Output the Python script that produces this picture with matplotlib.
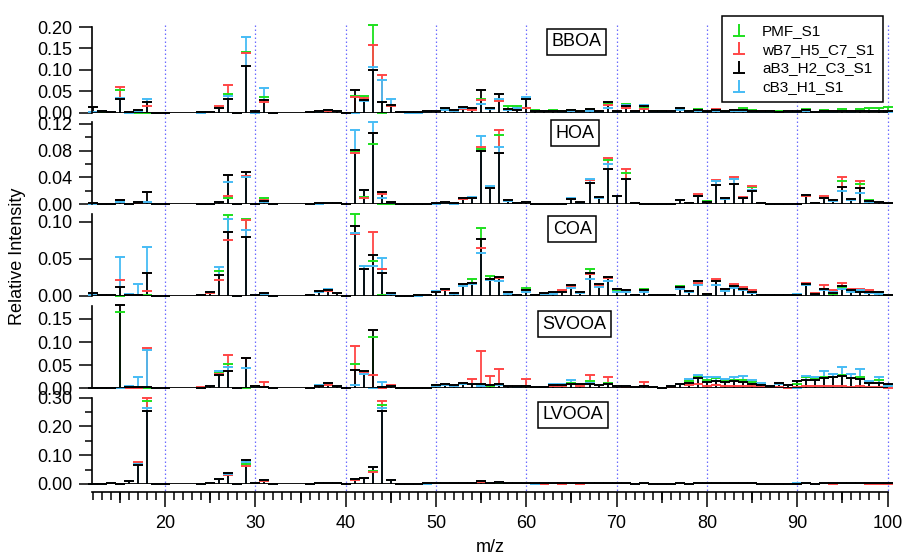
import matplotlib
matplotlib.use('Agg')
import matplotlib.pyplot as plt
from matplotlib.lines import Line2D
from matplotlib.path import Path
from matplotlib.transforms import blended_transform_factory
from matplotlib.ticker import FixedLocator, MultipleLocator, FormatStrFormatter

plt.rcParams['font.family'] = ['Liberation Sans', 'DejaVu Sans']

# ---------------- data ----------------
mz = list(range(12, 21)) + list(range(24, 33)) + list(range(36, 101))

series_names = ['PMF_S1', 'wB7_H5_C7_S1', 'aB3_H2_C3_S1', 'cB3_H1_S1']
factor_names = ['BBOA', 'HOA', 'COA', 'SVOOA', 'LVOOA']

# rows: 12-20 | 24-32 | 36-45 | 46-55 | 56-65 | 66-75 | 76-85 | 86-95 | 96-100
BBOA_PMF = [0.001,0.002,0.001,0.053,0.0,0.0,0.0,0.0,0.0,
            0.001,0.002,0.013,0.043,0.0,0.141,0.0,0.037,0.0,
            0.001,0.002,0.004,0.003,0.0,0.038,0.038,0.204,0.0,0.015,
            0.001,0.0,0.0,0.002,0.004,0.008,0.004,0.012,0.008,0.033,
            0.012,0.030,0.015,0.015,0.012,0.006,0.004,0.006,0.003,0.006,
            0.003,0.008,0.004,0.020,0.005,0.021,0.004,0.010,0.003,0.003,
            0.002,0.008,0.003,0.008,0.004,0.007,0.003,0.007,0.010,0.006,
            0.004,0.004,0.003,0.002,0.002,0.008,0.002,0.006,0.004,0.008,
            0.005,0.008,0.012,0.012,0.013]
BBOA_W = [0.002,0.004,0.002,0.059,0.001,0.004,0.015,0.0,0.0,
          0.0,0.002,0.015,0.064,0.0,0.139,0.0,0.026,0.0,
          0.001,0.005,0.004,0.003,0.0,0.036,0.034,0.158,0.087,0.016,
          0.001,0.0,0.0,0.001,0.003,0.006,0.003,0.009,0.006,0.030,
          0.008,0.027,0.006,0.008,0.010,0.004,0.003,0.004,0.002,0.004,
          0.002,0.006,0.003,0.018,0.003,0.012,0.003,0.008,0.002,0.002,
          0.002,0.006,0.002,0.006,0.003,0.008,0.002,0.006,0.005,0.004,
          0.003,0.002,0.002,0.002,0.002,0.007,0.002,0.004,0.003,0.005,
          0.003,0.004,0.004,0.003,0.003]
BBOA_A = [0.014,0.005,0.002,0.032,0.001,0.006,0.025,0.0,0.0,
          0.001,0.002,0.010,0.031,0.0,0.108,0.005,0.030,0.0,
          0.002,0.005,0.006,0.004,0.0,0.054,0.030,0.099,0.025,0.019,
          0.002,0.001,0.001,0.003,0.005,0.010,0.006,0.014,0.010,0.052,
          0.010,0.043,0.008,0.006,0.033,0.004,0.004,0.005,0.003,0.006,
          0.004,0.008,0.004,0.026,0.004,0.016,0.003,0.016,0.003,0.003,
          0.003,0.011,0.003,0.006,0.005,0.006,0.003,0.007,0.006,0.004,
          0.003,0.003,0.002,0.003,0.003,0.006,0.002,0.004,0.003,0.005,
          0.003,0.004,0.005,0.004,0.004]
BBOA_C = [0.001,0.003,0.001,0.035,0.0,0.002,0.032,0.0,0.0,
          0.0,0.001,0.010,0.040,0.0,0.177,0.0,0.058,0.0,
          0.001,0.002,0.006,0.003,0.0,0.0,0.028,0.106,0.077,0.031,
          0.001,0.0,0.0,0.001,0.003,0.006,0.003,0.010,0.010,0.020,
          0.008,0.032,0.006,0.010,0.037,0.004,0.004,0.003,0.002,0.003,
          0.002,0.005,0.002,0.012,0.002,0.018,0.002,0.019,0.002,0.001,
          0.001,0.006,0.001,0.004,0.002,0.004,0.001,0.003,0.003,0.002,
          0.002,0.002,0.001,0.001,0.001,0.004,0.001,0.002,0.002,0.004,
          0.002,0.004,0.004,0.003,0.002]

HOA_PMF = [0.001,0.001,0.001,0.005,0.0,0.002,0.004,0.0,0.0,
           0.0,0.001,0.003,0.010,0.0,0.041,0.0,0.009,0.0,
           0.001,0.001,0.002,0.002,0.0,0.079,0.011,0.090,0.0,0.001,
           0.0,0.0,0.001,0.001,0.001,0.002,0.001,0.008,0.010,0.083,
           0.026,0.103,0.005,0.002,0.003,0.001,0.001,0.001,0.001,0.008,
           0.002,0.036,0.010,0.066,0.012,0.047,0.002,0.001,0.0,0.0,
           0.001,0.006,0.002,0.012,0.005,0.034,0.009,0.038,0.010,0.026,
           0.002,0.001,0.001,0.0,0.001,0.013,0.002,0.011,0.007,0.035,
           0.006,0.030,0.006,0.003,0.002]
HOA_W = [0.001,0.001,0.001,0.006,0.0,0.002,0.004,0.0,0.0,
         0.0,0.001,0.003,0.013,0.0,0.042,0.0,0.006,0.0,
         0.001,0.001,0.002,0.002,0.0,0.077,0.010,0.106,0.015,0.002,
         0.0,0.0,0.001,0.001,0.001,0.002,0.001,0.008,0.009,0.085,
         0.024,0.110,0.005,0.002,0.003,0.001,0.001,0.001,0.001,0.008,
         0.002,0.036,0.010,0.069,0.012,0.052,0.002,0.001,0.0,0.0,
         0.001,0.007,0.002,0.015,0.004,0.036,0.009,0.041,0.011,0.027,
         0.002,0.001,0.001,0.0,0.001,0.013,0.002,0.012,0.006,0.041,
         0.007,0.035,0.005,0.004,0.002]
HOA_A = [0.002,0.001,0.001,0.006,0.001,0.004,0.019,0.0,0.0,
         0.0,0.001,0.004,0.044,0.0,0.048,0.001,0.005,0.0,
         0.001,0.002,0.002,0.002,0.0,0.081,0.021,0.106,0.018,0.003,
         0.0,0.0,0.001,0.001,0.002,0.003,0.002,0.009,0.010,0.079,
         0.024,0.076,0.006,0.002,0.003,0.001,0.001,0.001,0.001,0.008,
         0.003,0.031,0.011,0.052,0.013,0.037,0.002,0.001,0.0,0.0,
         0.001,0.006,0.0025,0.013,0.004,0.029,0.010,0.030,0.010,0.020,
         0.002,0.001,0.001,0.0,0.001,0.014,0.002,0.009,0.006,0.026,
         0.008,0.024,0.005,0.004,0.002]
HOA_C = [0.001,0.001,0.001,0.003,0.0,0.003,0.003,0.0,0.0,
         0.0,0.001,0.003,0.033,0.0,0.040,0.0,0.004,0.0,
         0.001,0.001,0.002,0.002,0.0,0.110,0.022,0.123,0.010,0.002,
         0.0,0.0,0.001,0.001,0.001,0.002,0.001,0.010,0.011,0.101,
         0.027,0.085,0.005,0.002,0.003,0.001,0.001,0.001,0.001,0.010,
         0.002,0.038,0.010,0.060,0.012,0.038,0.002,0.001,0.0,0.0,
         0.001,0.006,0.002,0.012,0.004,0.035,0.008,0.037,0.009,0.022,
         0.002,0.001,0.001,0.0,0.001,0.014,0.002,0.009,0.005,0.020,
         0.006,0.017,0.004,0.003,0.002]

COA_PMF = [0.001,0.001,0.001,0.0,0.001,0.001,0.001,0.0,0.0,
           0.001,0.004,0.034,0.109,0.0,0.104,0.001,0.003,0.0,
           0.001,0.005,0.007,0.004,0.0,0.111,0.041,0.047,0.001,0.003,
           0.0,0.0,0.001,0.001,0.006,0.009,0.004,0.016,0.023,0.091,
           0.027,0.024,0.004,0.002,0.011,0.002,0.003,0.004,0.007,0.014,
           0.005,0.036,0.014,0.024,0.008,0.007,0.002,0.010,0.002,0.001,
           0.001,0.013,0.006,0.018,0.002,0.020,0.008,0.014,0.010,0.006,
           0.002,0.001,0.001,0.001,0.002,0.015,0.004,0.010,0.003,0.012,
           0.006,0.007,0.005,0.004,0.001]
COA_W = [0.001,0.002,0.001,0.021,0.001,0.001,0.007,0.0,0.0,
         0.001,0.004,0.021,0.076,0.0,0.102,0.001,0.003,0.0,
         0.001,0.006,0.007,0.004,0.0,0.084,0.037,0.086,0.037,0.003,
         0.0,0.0,0.0,0.001,0.005,0.008,0.004,0.016,0.018,0.065,
         0.022,0.024,0.004,0.002,0.008,0.002,0.003,0.004,0.008,0.014,
         0.005,0.029,0.014,0.024,0.009,0.008,0.002,0.008,0.002,0.001,
         0.001,0.011,0.007,0.017,0.003,0.023,0.010,0.016,0.012,0.008,
         0.002,0.001,0.001,0.001,0.002,0.017,0.004,0.015,0.008,0.018,
         0.010,0.010,0.008,0.005,0.002]
COA_A = [0.004,0.002,0.001,0.012,0.001,0.002,0.031,0.0,0.0,
         0.001,0.005,0.028,0.086,0.0,0.079,0.002,0.004,0.0,
         0.001,0.007,0.008,0.004,0.0,0.094,0.036,0.055,0.031,0.004,
         0.0,0.0,0.001,0.001,0.006,0.009,0.004,0.016,0.018,0.077,
         0.023,0.026,0.005,0.002,0.008,0.002,0.004,0.005,0.006,0.015,
         0.006,0.031,0.016,0.025,0.009,0.008,0.002,0.008,0.002,0.001,
         0.001,0.012,0.007,0.020,0.003,0.020,0.009,0.014,0.010,0.006,
         0.002,0.001,0.001,0.001,0.002,0.016,0.003,0.010,0.004,0.014,
         0.008,0.006,0.005,0.005,0.002]
COA_C = [0.001,0.001,0.001,0.052,0.003,0.016,0.066,0.0,0.0,
         0.002,0.006,0.039,0.103,0.0,0.089,0.001,0.002,0.0,
         0.001,0.005,0.010,0.004,0.0,0.085,0.040,0.040,0.051,0.003,
         0.0,0.0,0.0,0.001,0.007,0.010,0.003,0.014,0.016,0.058,
         0.021,0.020,0.003,0.001,0.006,0.001,0.002,0.003,0.005,0.011,
         0.004,0.023,0.012,0.020,0.006,0.006,0.001,0.006,0.001,0.001,
         0.001,0.010,0.005,0.015,0.002,0.015,0.007,0.011,0.008,0.004,
         0.001,0.001,0.001,0.001,0.003,0.015,0.002,0.008,0.005,0.010,
         0.006,0.008,0.004,0.003,0.001]

SVOOA_PMF = [0.0,0.0,0.001,0.165,0.002,0.002,0.001,0.0,0.0,
             0.001,0.005,0.034,0.052,0.0,0.0,0.003,0.003,0.0,
             0.001,0.008,0.010,0.004,0.0,0.053,0.038,0.110,0.0,0.004,
             0.001,0.001,0.001,0.001,0.006,0.008,0.006,0.010,0.010,0.008,
             0.006,0.008,0.005,0.003,0.005,0.002,0.002,0.007,0.007,0.012,
             0.007,0.016,0.007,0.012,0.005,0.004,0.002,0.006,0.002,0.001,
             0.003,0.009,0.016,0.026,0.018,0.022,0.019,0.018,0.018,0.014,
             0.009,0.005,0.010,0.007,0.010,0.024,0.023,0.025,0.024,0.028,
             0.022,0.025,0.012,0.018,0.006]
SVOOA_W = [0.0,0.0,0.001,0.0,0.001,0.001,0.088,0.0,0.0,
           0.002,0.004,0.030,0.071,0.0,0.066,0.005,0.013,0.0,
           0.001,0.005,0.008,0.004,0.0,0.092,0.035,0.029,0.0,0.008,
           0.001,0.001,0.001,0.001,0.005,0.007,0.005,0.011,0.020,0.081,
           0.026,0.042,0.006,0.003,0.020,0.002,0.002,0.005,0.006,0.010,
           0.006,0.029,0.007,0.025,0.004,0.003,0.002,0.014,0.003,0.001,
           0.002,0.010,0.008,0.010,0.006,0.008,0.006,0.006,0.005,0.004,
           0.003,0.002,0.003,0.001,0.002,0.006,0.004,0.005,0.004,0.005,
           0.003,0.004,0.002,0.002,0.001]
SVOOA_A = [0.0,0.0,0.001,0.180,0.003,0.002,0.002,0.0,0.0,
           0.001,0.006,0.028,0.037,0.0,0.065,0.004,0.003,0.0,
           0.001,0.006,0.012,0.004,0.0,0.040,0.037,0.127,0.002,0.005,
           0.001,0.001,0.001,0.001,0.007,0.010,0.007,0.012,0.010,0.010,
           0.008,0.010,0.006,0.004,0.005,0.003,0.002,0.008,0.008,0.010,
           0.009,0.009,0.008,0.010,0.005,0.004,0.002,0.006,0.003,0.001,
           0.004,0.010,0.012,0.023,0.013,0.015,0.014,0.016,0.014,0.010,
           0.008,0.005,0.012,0.007,0.015,0.017,0.019,0.022,0.024,0.026,
           0.022,0.020,0.012,0.012,0.009]
SVOOA_C = [0.0,0.0,0.001,0.0,0.004,0.024,0.083,0.0,0.0,
           0.001,0.005,0.038,0.047,0.0,0.043,0.003,0.003,0.0,
           0.001,0.007,0.012,0.004,0.0,0.008,0.032,0.0,0.013,0.005,
           0.001,0.001,0.001,0.001,0.006,0.008,0.006,0.010,0.010,0.005,
           0.007,0.008,0.005,0.003,0.006,0.003,0.002,0.010,0.010,0.019,
           0.010,0.012,0.008,0.010,0.005,0.004,0.002,0.006,0.003,0.001,
           0.004,0.010,0.020,0.028,0.025,0.024,0.020,0.025,0.026,0.018,
           0.012,0.006,0.010,0.008,0.001,0.027,0.024,0.037,0.030,0.047,
           0.030,0.042,0.015,0.025,0.005]

LVOOA_PMF = [0.001,0.001,0.002,0.001,0.010,0.072,0.288,0.0,0.0,
             0.001,0.003,0.017,0.033,0.0,0.070,0.002,0.012,0.0,
             0.001,0.002,0.003,0.002,0.0,0.016,0.020,0.045,0.275,0.014,
             0.001,0.001,0.001,0.001,0.002,0.003,0.002,0.004,0.004,0.008,
             0.003,0.005,0.002,0.002,0.003,0.001,0.002,0.002,0.002,0.003,
             0.002,0.003,0.002,0.004,0.003,0.002,0.001,0.002,0.001,0.001,
             0.001,0.002,0.001,0.002,0.002,0.003,0.002,0.002,0.002,0.002,
             0.001,0.001,0.001,0.001,0.001,0.002,0.001,0.002,0.002,0.003,
             0.002,0.003,0.002,0.002,0.003]
LVOOA_W = [0.001,0.001,0.002,0.001,0.010,0.076,0.300,0.0,0.0,
           0.001,0.003,0.016,0.030,0.0,0.064,0.002,0.012,0.0,
           0.001,0.002,0.003,0.002,0.0,0.014,0.020,0.043,0.290,0.014,
           0.001,0.001,0.001,0.001,0.002,0.003,0.002,0.004,0.003,0.006,
           0.002,0.008,0.002,0.002,0.002,0.001,0.001,0.002,0.001,0.002,
           0.001,0.002,0.002,0.003,0.002,0.002,0.001,0.002,0.001,0.001,
           0.001,0.002,0.001,0.002,0.002,0.002,0.002,0.002,0.002,0.002,
           0.001,0.001,0.001,0.001,0.001,0.002,0.001,0.002,0.001,0.002,
           0.002,0.002,0.001,0.001,0.001]
LVOOA_A = [0.001,0.001,0.002,0.001,0.011,0.066,0.255,0.0,0.0,
           0.001,0.004,0.018,0.038,0.0,0.082,0.003,0.014,0.0,
           0.001,0.002,0.003,0.002,0.0,0.018,0.022,0.060,0.254,0.015,
           0.001,0.001,0.001,0.002,0.002,0.003,0.002,0.005,0.005,0.012,
           0.004,0.006,0.002,0.002,0.003,0.002,0.002,0.003,0.002,0.003,
           0.002,0.003,0.002,0.004,0.003,0.002,0.001,0.002,0.001,0.001,
           0.001,0.002,0.001,0.003,0.002,0.003,0.002,0.003,0.002,0.002,
           0.001,0.001,0.001,0.001,0.001,0.002,0.001,0.002,0.002,0.002,
           0.002,0.002,0.002,0.002,0.002]
LVOOA_C = [0.001,0.001,0.002,0.001,0.010,0.070,0.264,0.0,0.0,
           0.001,0.003,0.017,0.035,0.0,0.075,0.002,0.013,0.0,
           0.001,0.002,0.003,0.002,0.0,0.017,0.021,0.058,0.265,0.014,
           0.001,0.001,0.001,0.001,0.002,0.003,0.002,0.004,0.004,0.009,
           0.003,0.008,0.002,0.002,0.002,0.001,0.002,0.002,0.002,0.003,
           0.002,0.003,0.002,0.003,0.002,0.002,0.001,0.002,0.001,0.001,
           0.001,0.002,0.001,0.002,0.002,0.002,0.002,0.002,0.002,0.002,
           0.001,0.001,0.001,0.001,0.003,0.002,0.001,0.002,0.002,0.002,
           0.002,0.002,0.002,0.002,0.002]

data = {
    'BBOA': [BBOA_PMF, BBOA_W, BBOA_A, BBOA_C],
    'HOA': [HOA_PMF, HOA_W, HOA_A, HOA_C],
    'COA': [COA_PMF, COA_W, COA_A, COA_C],
    'SVOOA': [SVOOA_PMF, SVOOA_W, SVOOA_A, SVOOA_C],
    'LVOOA': [LVOOA_PMF, LVOOA_W, LVOOA_A, LVOOA_C],
}

# y-axis ticks per panel
yticks_major = {
    'BBOA': [0.0, 0.05, 0.10, 0.15, 0.20],
    'HOA': [0.0, 0.04, 0.08, 0.12],
    'COA': [0.0, 0.05, 0.10],
    'SVOOA': [0.0, 0.05, 0.10, 0.15],
    'LVOOA': [0.0, 0.10, 0.20, 0.30],
}
yticks_minor = {
    'BBOA': [], 'HOA': [0.02, 0.06, 0.10], 'COA': [], 'SVOOA': [],
    'LVOOA': [0.05, 0.15, 0.25],
}

# ---------------- style / layout ----------------
colors = ['#1ee01e', '#ff4646', '#000000', '#46bcf5']
draw_order = [0, 1, 3, 2]
W, H = 904, 556

def fy(px):
    return 1 - px / H

xmin, xmax = 11.88, 100.05
ax_left_px, ax_right_px = 91.7, 888.0
# (top_px, bottom_px, ymax, label x (m/z), label y frac)
layout = {
    'BBOA': (27.0, 112.7, 0.20, 65.6, 0.825),
    'HOA': (121.7, 204.3, 0.123, 65.4, 0.863),
    'COA': (214.3, 296.0, 0.11, 65.1, 0.82),
    'SVOOA': (306.0, 388.3, 0.178, 65.3, 0.781),
    'LVOOA': (397.7, 484.0, 0.30, 65.2, 0.805),
}

fig = plt.figure(figsize=(W / 100, H / 100), dpi=100)
axes = {}
for name in factor_names:
    top, bot, ymax, lx, ly = layout[name]
    ax = fig.add_axes([ax_left_px / W, fy(bot), (ax_right_px - ax_left_px) / W, (bot - top) / H])
    ax.set_facecolor('none')
    axes[name] = ax
    ax.set_xlim(xmin, xmax)
    ax.set_ylim(0, ymax)
    for s in ['top', 'right', 'bottom']:
        ax.spines[s].set_visible(False)
    ax.spines['left'].set_linewidth(1.2)
    ax.yaxis.set_major_locator(FixedLocator(yticks_major[name]))
    ax.yaxis.set_minor_locator(FixedLocator(yticks_minor[name]))
    ax.yaxis.set_major_formatter(FormatStrFormatter('%.2f'))
    ax.tick_params(axis='y', which='major', direction='out', length=9.5, width=1.1,
                   labelsize=13, pad=4.5)
    ax.tick_params(axis='y', which='minor', direction='out', length=5, width=1.1)
    ax.axhline(0, color='black', lw=1.3, zorder=3)
    vals_all = data[name]
    for i in draw_order:
        vals = vals_all[i]
        ax.vlines(mz, 0, vals, colors=colors[i], lw=1.3, clip_on=False, zorder=2)
        ax.plot(mz, vals, ls='none', marker='_', ms=6.5, mew=1.4, color=colors[i],
                clip_on=False, zorder=2.5)
    ax.text(lx, ly, name, transform=blended_transform_factory(ax.transData, ax.transAxes),
            ha='center', va='center', fontsize=13, zorder=6,
            bbox=dict(boxstyle='square,pad=0.25', fc='white', ec='black', lw=1.1))
    if name != 'LVOOA':
        ax.tick_params(axis='x', which='both', bottom=False, labelbottom=False)

# bottom x axis (offset below LVOOA panel)
lv = axes['LVOOA']
offset_frac = -8.3 / (layout['LVOOA'][1] - layout['LVOOA'][0])
lv.spines['bottom'].set_visible(True)
lv.spines['bottom'].set_position(('axes', offset_frac))
lv.spines['bottom'].set_linewidth(1.2)
lv.xaxis.set_major_locator(FixedLocator(list(range(20, 101, 10))))
lv.xaxis.set_minor_locator(MultipleLocator(1))
lv.tick_params(axis='x', which='major', direction='out', length=11, width=1.1,
               labelsize=13, pad=5.5)
lv.tick_params(axis='x', which='minor', direction='out', length=5.5, width=1.1)
sec = lv.secondary_xaxis(offset_frac)
sec.xaxis.set_major_locator(FixedLocator(list(range(15, 100, 10))))
sec.tick_params(axis='x', which='major', direction='out', length=8, width=1.1,
                labelbottom=False)
sec.spines['bottom'].set_visible(False)

# dotted vertical grid lines spanning all panels
trans = blended_transform_factory(lv.transData, fig.transFigure)
for xv in range(20, 101, 10):
    fig.add_artist(Line2D([xv, xv], [fy(25), fy(492)], transform=trans, color='#6b6bff',
                          lw=0.9, ls=(0, (1.2, 2)), zorder=-1))

# legend
mk = Path([(0, -0.5), (0, 0.5), (-0.5, -0.5), (0.5, -0.5)],
          [Path.MOVETO, Path.LINETO, Path.MOVETO, Path.LINETO])
handles = [Line2D([], [], ls='none', marker=mk, ms=9, mew=1.4, mfc='none', color=c)
           for c in colors]
leg = fig.legend(handles, series_names, loc='upper left',
                 bbox_to_anchor=(721.7 / W, fy(15.7)), fontsize=11, frameon=True,
                 fancybox=False, edgecolor='black', framealpha=1, borderpad=0.55,
                 labelspacing=0.3, handlelength=1.2, handletextpad=0.9, borderaxespad=0)
leg.get_frame().set_linewidth(1.1)
leg.set_zorder(10)

fig.text(18 / W, fy(256), 'Relative Intensity', rotation=90, ha='center', va='center',
         fontsize=13)
fig.text(490 / W, fy(548), 'm/z', ha='center', va='center', fontsize=13)

fig.savefig('out.png', dpi=100)
